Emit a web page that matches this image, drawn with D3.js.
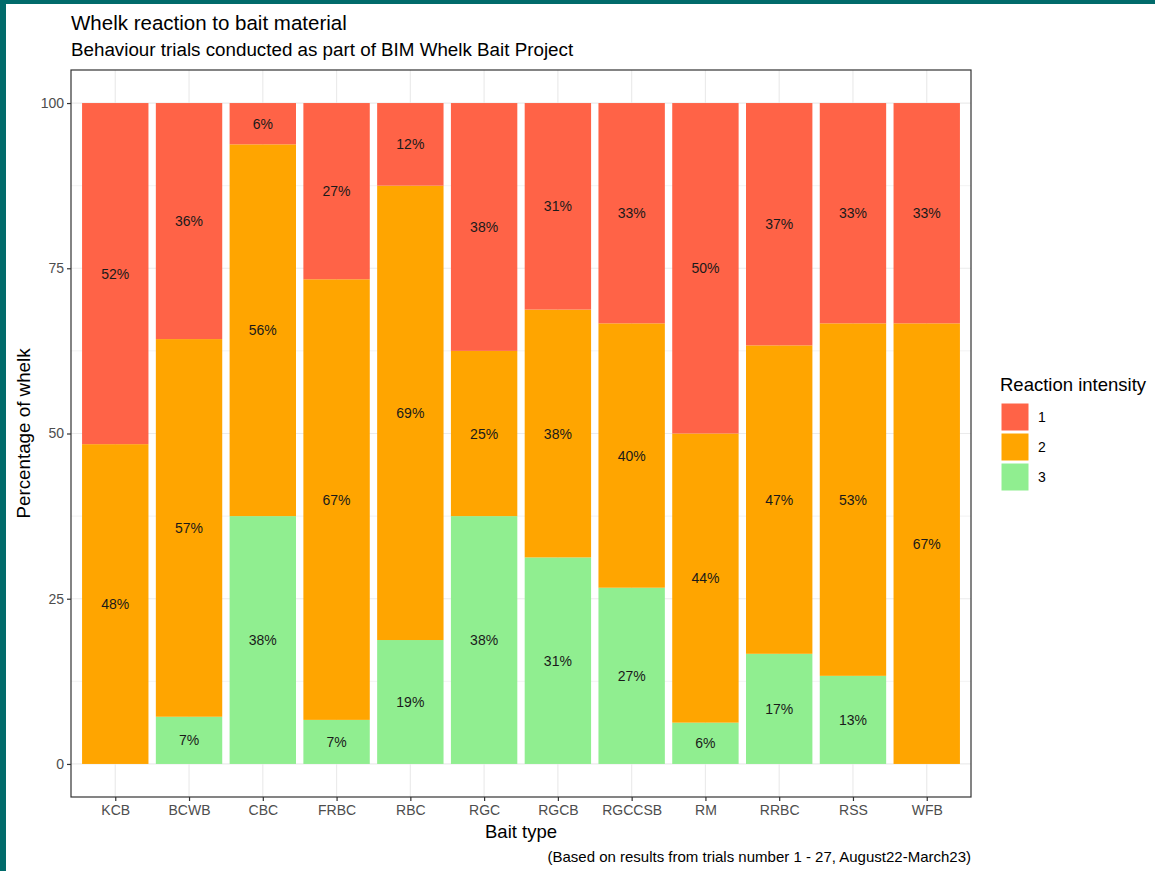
<!DOCTYPE html>
<html>
<head>
<meta charset="utf-8">
<script src="https://cdn.jsdelivr.net/npm/d3@7"></script>
<style>
  html, body { margin: 0; padding: 0; background: #ffffff; }
  svg { display: block; font-family: "Liberation Sans", Arial, sans-serif; }
</style>
</head>
<body>
<svg id="chart" width="1155" height="871"></svg>
<script>
// Bait types in display order
const baitTypes = ["KCB", "BCWB", "CBC", "FRBC", "RBC", "RGC", "RGCB", "RGCCSB", "RM", "RRBC", "RSS", "WFB"];
// Percentage of whelk at each reaction intensity, per bait type
const intensity1 = [51.613, 35.714, 6.25, 26.667, 12.5, 37.5, 31.25, 33.333, 50.0, 36.667, 33.333, 33.333];
const intensity2 = [48.387, 57.143, 56.25, 66.667, 68.75, 25.0, 37.5, 40.0, 43.75, 46.667, 53.333, 66.667];
const intensity3 = [0, 7.143, 37.5, 6.667, 18.75, 37.5, 31.25, 26.667, 6.25, 16.667, 13.333, 0];
const intensityLevels = ["1", "2", "3"];
const yTicks = [0, 25, 50, 75, 100];
const yMinor = [12.5, 37.5, 62.5, 87.5];

const colours = { "1": "#FF6347", "2": "#FFA500", "3": "#90EE90" };

// round half to even, so 12.5 -> 12 and 37.5 -> 38
function roundEven(v) {
  const r = Math.round(v);
  return (Math.abs(v % 1) === 0.5 && r % 2 !== 0) ? r - 1 : r;
}

const svg = d3.select("#chart");
const W = 1155, H = 871;

// frame border
svg.append("rect").attr("x", 0).attr("y", 0).attr("width", W).attr("height", H).attr("fill", "#016b6b");
svg.append("rect").attr("x", 6).attr("y", 4).attr("width", W - 6).attr("height", H - 4).attr("fill", "#ffffff");

const panel = { left: 71, right: 971, top: 70, bottom: 797 };

// discrete x positions with 0.6 padding on each side
const n = baitTypes.length;
const xLin = d3.scaleLinear().domain([0.4, n + 0.6]).range([panel.left, panel.right]);
const xPos = d => xLin(baitTypes.indexOf(d) + 1);
const barW = xLin(1.9) - xLin(1);

const y = d3.scaleLinear().domain([-5, 105]).range([panel.bottom, panel.top]);

// stack rows: 3 at the bottom, then 2, then 1
const rows = baitTypes.map((b, i) => ({ bait: b, "1": intensity1[i], "2": intensity2[i], "3": intensity3[i] }));
const stack = d3.stack().keys(["3", "2", "1"]);
const series = stack(rows);

const g = svg.append("g");

// gridlines
g.selectAll(".minor").data(yMinor).join("line")
  .attr("x1", panel.left).attr("x2", panel.right)
  .attr("y1", d => y(d)).attr("y2", d => y(d))
  .attr("stroke", "#ebebeb").attr("stroke-width", 0.6);
g.selectAll(".majorY").data(yTicks).join("line")
  .attr("x1", panel.left).attr("x2", panel.right)
  .attr("y1", d => y(d)).attr("y2", d => y(d))
  .attr("stroke", "#ebebeb").attr("stroke-width", 1.2);
g.selectAll(".majorX").data(baitTypes).join("line")
  .attr("x1", d => xPos(d)).attr("x2", d => xPos(d))
  .attr("y1", panel.top).attr("y2", panel.bottom)
  .attr("stroke", "#ebebeb").attr("stroke-width", 1.2);

// bars
series.forEach(s => {
  g.append("g").selectAll("rect").data(s).join("rect")
    .attr("x", d => xPos(d.data.bait) - barW / 2)
    .attr("width", barW)
    .attr("y", d => y(d[1]))
    .attr("height", d => y(d[0]) - y(d[1]))
    .attr("fill", colours[s.key]);
});

// segment labels
series.forEach(s => {
  g.append("g").selectAll("text").data(s.filter(d => d[1] - d[0] > 0)).join("text")
    .attr("x", d => xPos(d.data.bait))
    .attr("y", d => y((d[0] + d[1]) / 2))
    .attr("dy", "0.36em")
    .attr("text-anchor", "middle")
    .attr("font-size", 14)
    .attr("fill", "#1a1a1a")
    .text(d => roundEven(d[1] - d[0]) + "%");
});

// panel border
svg.append("rect")
  .attr("x", panel.left).attr("y", panel.top)
  .attr("width", panel.right - panel.left).attr("height", panel.bottom - panel.top)
  .attr("fill", "none").attr("stroke", "#333333").attr("stroke-width", 1.2);

// y axis
const yAxis = d3.axisLeft(y).tickValues(yTicks).tickSize(4).tickPadding(3);
const yg = svg.append("g").attr("transform", `translate(${panel.left},0)`).call(yAxis);
yg.select(".domain").remove();
yg.selectAll("line").attr("stroke", "#333333").attr("stroke-width", 1.2);
yg.selectAll("text").attr("font-size", 14).attr("fill", "#4d4d4d").attr("font-family", "Liberation Sans, Arial, sans-serif");

// x axis
const xPoint = d3.scalePoint().domain(baitTypes).range([xLin(1), xLin(n)]);
const xAxis = d3.axisBottom(xPoint).tickSize(4).tickPadding(4);
const xg = svg.append("g").attr("transform", `translate(0,${panel.bottom})`).call(xAxis);
xg.select(".domain").remove();
xg.selectAll("line").attr("stroke", "#333333").attr("stroke-width", 1.2);
xg.selectAll("text").attr("font-size", 14).attr("fill", "#4d4d4d").attr("font-family", "Liberation Sans, Arial, sans-serif");

// titles
svg.append("text").attr("x", panel.left).attr("y", 30)
  .attr("font-size", 20.5).attr("fill", "#000").text("Whelk reaction to bait material");
svg.append("text").attr("x", panel.left).attr("y", 56)
  .attr("font-size", 18.8).attr("fill", "#000").text("Behaviour trials conducted as part of BIM Whelk Bait Project");

svg.append("text")
  .attr("transform", `translate(30,${(panel.top + panel.bottom) / 2}) rotate(-90)`)
  .attr("text-anchor", "middle").attr("font-size", 18.8).attr("fill", "#000").text("Percentage of whelk");

svg.append("text").attr("x", (panel.left + panel.right) / 2).attr("y", 838)
  .attr("text-anchor", "middle").attr("font-size", 18.5).attr("fill", "#000").text("Bait type");

svg.append("text").attr("x", panel.right).attr("y", 862)
  .attr("text-anchor", "end").attr("font-size", 15).attr("fill", "#000")
  .text("(Based on results from trials number 1 - 27, August22-March23)");

// legend
const leg = svg.append("g").attr("transform", "translate(1000,0)");
leg.append("text").attr("x", 0).attr("y", 391).attr("font-size", 18.5).attr("fill", "#000").text("Reaction intensity");
intensityLevels.forEach((k, i) => {
  const top = 403 + i * 30;
  leg.append("rect").attr("x", 1).attr("y", top).attr("width", 28).attr("height", 28)
    .attr("fill", colours[k]).attr("stroke", "#ffffff").attr("stroke-width", 1);
  leg.append("text").attr("x", 38).attr("y", top + 14).attr("dy", "0.36em")
    .attr("font-size", 14).attr("fill", "#000").text(k);
});
</script>
</body>
</html>
